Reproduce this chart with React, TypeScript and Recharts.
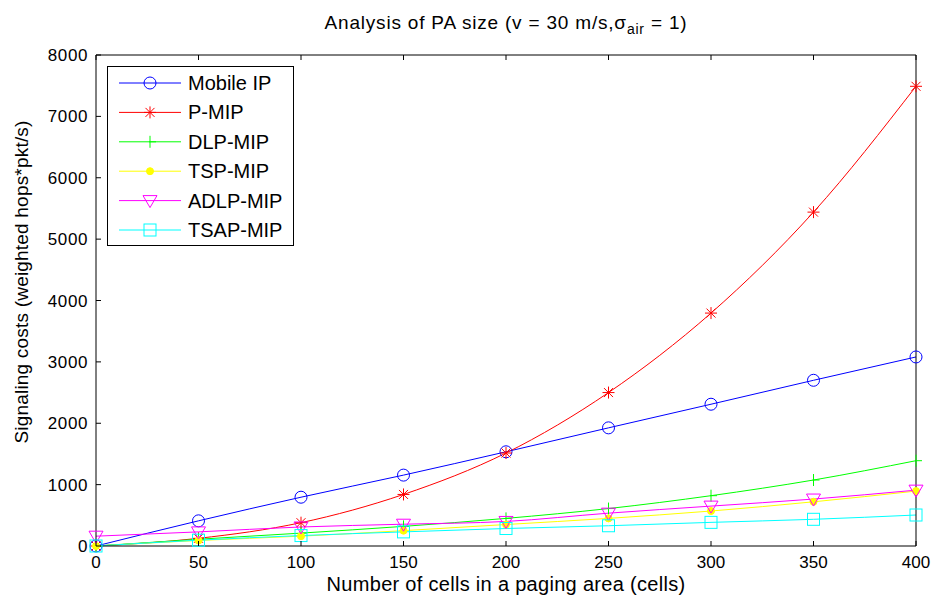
import { Legend, Line, LineChart, XAxis, YAxis } from "recharts";
import type { ReactElement } from "react";

const cells = [0, 50, 100, 150, 200, 250, 300, 350, 400];
const mobileIp = [0, 410, 795, 1155, 1535, 1925, 2310, 2700, 3080];
const pMip = [0, 125, 380, 840, 1515, 2500, 3795, 5440, 7490];
const dlpMip = [0, 110, 210, 320, 450, 610, 820, 1075, 1390];
const tspMip = [0, 90, 160, 250, 350, 450, 570, 720, 895];
const adlpMip = [160, 230, 310, 355, 400, 535, 650, 765, 910];
const tsapMip = [0, 95, 170, 230, 285, 330, 385, 435, 505];
const xTicks = [0, 50, 100, 150, 200, 250, 300, 350, 400];
const yTicks = [0, 1000, 2000, 3000, 4000, 5000, 6000, 7000, 8000];

type MarkerKind = "circle" | "star" | "plus" | "dot" | "triangle" | "square";

const series: { key: string; name: string; color: string; marker: MarkerKind; values: number[] }[] = [
  { key: "mobileIp", name: "Mobile IP", color: "#0000ff", marker: "circle", values: mobileIp },
  { key: "pMip", name: "P-MIP", color: "#ff0000", marker: "star", values: pMip },
  { key: "dlpMip", name: "DLP-MIP", color: "#00ff00", marker: "plus", values: dlpMip },
  { key: "tspMip", name: "TSP-MIP", color: "#ffff00", marker: "dot", values: tspMip },
  { key: "adlpMip", name: "ADLP-MIP", color: "#ff00ff", marker: "triangle", values: adlpMip },
  { key: "tsapMip", name: "TSAP-MIP", color: "#00ffff", marker: "square", values: tsapMip },
];

const data = cells.map((x, i) => {
  const row: Record<string, number> = { x };
  series.forEach((s) => {
    row[s.key] = s.values[i];
  });
  return row;
});

const FONT = "'Liberation Sans', Arial, sans-serif";
const PLOT = { left: 96, right: 916, top: 55, bottom: 546 };

const marker = (kind: MarkerKind, cx: number, cy: number, color: string, key?: string): ReactElement => {
  switch (kind) {
    case "circle":
      return <circle key={key} cx={cx} cy={cy} r={6} fill="none" stroke={color} strokeWidth={1} />;
    case "star":
      return (
        <g key={key} stroke={color} strokeWidth={1}>
          <line x1={cx - 6} y1={cy} x2={cx + 6} y2={cy} />
          <line x1={cx} y1={cy - 6} x2={cx} y2={cy + 6} />
          <line x1={cx - 4.5} y1={cy - 4.5} x2={cx + 4.5} y2={cy + 4.5} />
          <line x1={cx - 4.5} y1={cy + 4.5} x2={cx + 4.5} y2={cy - 4.5} />
        </g>
      );
    case "plus":
      return (
        <g key={key} stroke={color} strokeWidth={1}>
          <line x1={cx} y1={cy - 6} x2={cx} y2={cy + 6} />
          <line x1={cx - 1} y1={cy} x2={cx + 6} y2={cy} />
        </g>
      );
    case "dot":
      return <circle key={key} cx={cx} cy={cy} r={3.5} fill={color} stroke={color} />;
    case "triangle":
      return (
        <polygon
          key={key}
          points={`${cx - 7},${cy - 5} ${cx + 7},${cy - 5} ${cx},${cy + 7}`}
          fill="none"
          stroke={color}
          strokeWidth={1}
        />
      );
    case "square":
      return <rect key={key} x={cx - 6} y={cy - 6} width={12} height={12} fill="none" stroke={color} strokeWidth={1} />;
  }
};

const renderLegend = () => (
  <svg width={187} height={180} style={{ display: "block" }}>
    <rect x={0.5} y={0.5} width={186} height={179} fill="#fff" stroke="#000" />
    {series.map((s, i) => {
      const y = 17 + i * 29.4;
      return (
        <g key={s.key}>
          <line x1={12} x2={74} y1={y} y2={y} stroke={s.color} strokeWidth={1} />
          {marker(s.marker, 43, y, s.color)}
          <text x={81} y={y + 7} fontSize={20} fontFamily={FONT} fill="#000">
            {s.name}
          </text>
        </g>
      );
    })}
  </svg>
);

const BottomTick = (props: any) => {
  const { x, y, payload } = props;
  return (
    <g>
      <line x1={x} x2={x} y1={y} y2={y - 5} stroke="#000" />
      <text x={x} y={y + 22} textAnchor="middle" fontSize={17} fontFamily={FONT} fill="#000">
        {payload.value}
      </text>
    </g>
  );
};

const LeftTick = (props: any) => {
  const { x, y, payload } = props;
  return (
    <g>
      <line x1={x} x2={x + 5} y1={y} y2={y} stroke="#000" />
      <text
        x={x - 8}
        y={y + 6}
        textAnchor="end"
        fontSize={17}
        letterSpacing={0.6}
        fontFamily={FONT}
        fill="#000"
      >
        {payload.value}
      </text>
    </g>
  );
};

const TopTick = (props: any) => {
  const { x, y } = props;
  return <line x1={x} x2={x} y1={y} y2={y + 5} stroke="#000" />;
};

const RightTick = (props: any) => {
  const { x, y } = props;
  return <line x1={x} x2={x - 5} y1={y} y2={y} stroke="#000" />;
};

export default function App() {
  return (
    <div style={{ position: "absolute", left: 0, top: 0, width: 936, height: 602, background: "#fff" }}>
      <LineChart width={936} height={602} data={data} margin={{ top: 0, right: 0, bottom: 0, left: 0 }}>
        <XAxis
          dataKey="x"
          type="number"
          domain={[0, 400]}
          ticks={xTicks}
          height={602 - PLOT.bottom}
          tickSize={0}
          tickMargin={0}
          tickLine={false}
          tick={<BottomTick />}
          stroke="#000"
          interval={0}
        />
        <XAxis
          xAxisId="top"
          orientation="top"
          dataKey="x"
          type="number"
          domain={[0, 400]}
          ticks={xTicks}
          height={PLOT.top}
          tickSize={0}
          tickMargin={0}
          tickLine={false}
          tick={<TopTick />}
          stroke="#000"
          interval={0}
        />
        <YAxis
          type="number"
          domain={[0, 8000]}
          ticks={yTicks}
          width={PLOT.left}
          tickSize={0}
          tickMargin={0}
          tickLine={false}
          tick={<LeftTick />}
          stroke="#000"
          interval={0}
        />
        <YAxis
          yAxisId="right"
          orientation="right"
          type="number"
          domain={[0, 8000]}
          ticks={yTicks}
          width={936 - PLOT.right}
          tickSize={0}
          tickMargin={0}
          tickLine={false}
          tick={<RightTick />}
          stroke="#000"
          interval={0}
        />
        <Legend
          layout="vertical"
          align="center"
          verticalAlign="middle"
          content={renderLegend}
          wrapperStyle={{ left: 107, top: 66, width: 187, height: 180 }}
        />
        {series.map((s) => (
          <Line
            key={s.key}
            dataKey={s.key}
            name={s.name}
            type="monotone"
            stroke={s.color}
            strokeWidth={1}
            isAnimationActive={false}
            dot={(p: any) => marker(s.marker, p.cx, p.cy, s.color, `${s.key}-${p.index}`)}
            activeDot={false}
          />
        ))}
      </LineChart>
      <svg
        width={936}
        height={602}
        style={{ position: "absolute", left: 0, top: 0, pointerEvents: "none" }}
        fontFamily={FONT}
      >
        <text
          x={(PLOT.left + PLOT.right) / 2}
          y={29}
          textAnchor="middle"
          fontSize={19}
          letterSpacing={0.8}
          fill="#000"
        >
          Analysis of PA size (v = 30 m/s,σ
          <tspan fontSize={14} dy={5}>air</tspan>
          <tspan dy={-5}> = 1)</tspan>
        </text>
        <text
          x={(PLOT.left + PLOT.right) / 2}
          y={591}
          textAnchor="middle"
          fontSize={20}
          letterSpacing={0.3}
          fill="#000"
        >
          Number of cells in a paging area (cells)
        </text>
        <text
          transform="translate(28,282) rotate(-90)"
          textAnchor="middle"
          fontSize={19}
          letterSpacing={0.2}
          fill="#000"
        >
          Signaling costs (weighted hops*pkt/s)
        </text>
      </svg>
    </div>
  );
}
